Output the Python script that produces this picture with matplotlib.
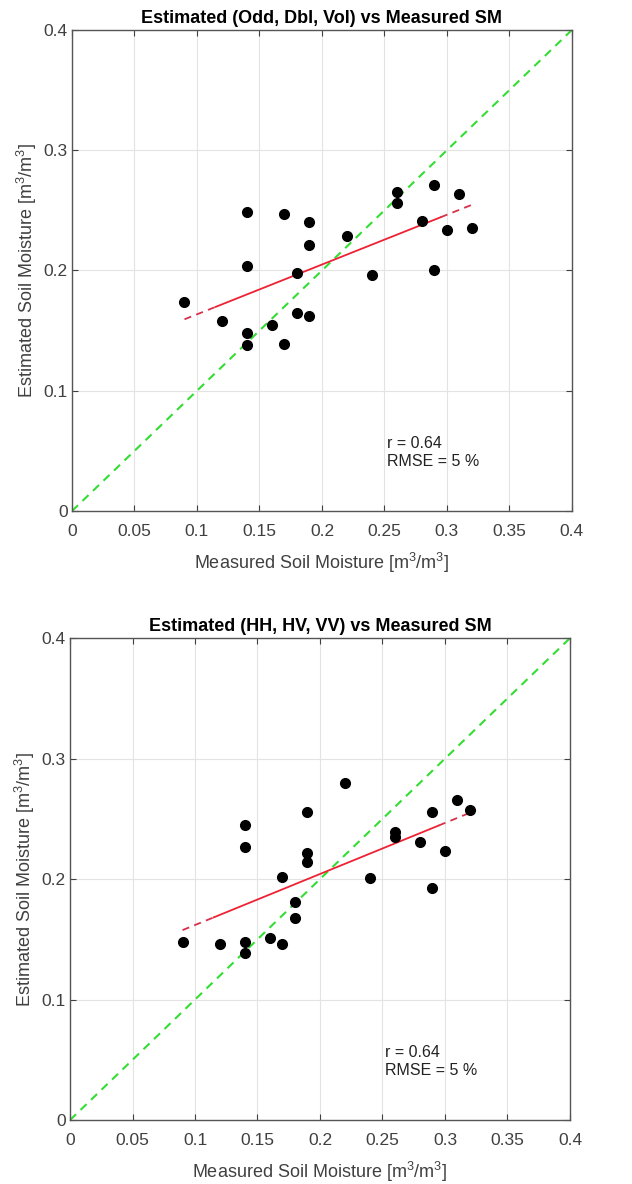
import numpy as np
import matplotlib
matplotlib.use("Agg")
import matplotlib.pyplot as plt

plt.rcParams['font.family'] = ['Liberation Sans', 'DejaVu Sans']
plt.rcParams['mathtext.default'] = 'regular'

measured = [0.09, 0.12, 0.14, 0.14, 0.14, 0.14, 0.16, 0.17, 0.17, 0.18, 0.18,
            0.19, 0.19, 0.19, 0.22, 0.24, 0.26, 0.26, 0.28, 0.29, 0.29, 0.30, 0.31, 0.32]
est_pol = [0.174, 0.158, 0.249, 0.204, 0.148, 0.138, 0.155, 0.247, 0.139, 0.198, 0.165,
           0.240, 0.221, 0.162, 0.229, 0.196, 0.265, 0.256, 0.241, 0.271, 0.200, 0.234, 0.264, 0.235]
est_lin = [0.148, 0.146, 0.245, 0.227, 0.148, 0.139, 0.151, 0.202, 0.146, 0.181, 0.168,
           0.256, 0.222, 0.214, 0.280, 0.201, 0.239, 0.235, 0.231, 0.256, 0.193, 0.223, 0.266, 0.257]
titles = ["Estimated (Odd, Dbl, Vol) vs Measured SM",
          "Estimated (HH, HV, VV) vs Measured SM"]
stats_text = "r = 0.64\nRMSE = 5 %"
xticks = [0, 0.05, 0.1, 0.15, 0.2, 0.25, 0.3, 0.35, 0.4]
xtick_labels = ["0", "0.05", "0.1", "0.15", "0.2", "0.25", "0.3", "0.35", "0.4"]
yticks = [0, 0.1, 0.2, 0.3, 0.4]
ytick_labels = ["0", "0.1", "0.2", "0.3", "0.4"]

fig = plt.figure(figsize=(6.32, 11.84), dpi=100)
positions = [[0.1139, 0.5684, 0.791, 0.4063], [0.1108, 0.054, 0.791, 0.407]]

for pos, est, title in zip(positions, [est_pol, est_lin], titles):
    ax = fig.add_axes(pos)
    x = np.array(measured)
    y = np.array(est)
    ax.plot([0, 0.4], [0, 0.4], linestyle=(0, (4, 3)), color='#33dd33', lw=1.5, zorder=2)
    k, b = np.polyfit(x, y, 1)
    xs = np.array([x.min(), 0.115])
    xm = np.array([0.115, 0.295])
    xe = np.array([0.295, x.max()])
    ax.plot(xs, k * xs + b, linestyle=(0, (4, 3)), color='#d9304a', lw=1.3, zorder=3)
    ax.plot(xm, k * xm + b, '-', color='#ee2233', lw=1.3, zorder=3)
    ax.plot(xe, k * xe + b, linestyle=(0, (4, 3)), color='#d9304a', lw=1.3, zorder=3)
    ax.plot(x, y, 'o', color='black', ms=7, zorder=4)
    ax.set_xlim(0, 0.4)
    ax.set_ylim(0, 0.4)
    ax.set_xticks(xticks)
    ax.set_xticklabels(xtick_labels)
    ax.set_yticks(yticks)
    ax.set_yticklabels(ytick_labels)
    ax.grid(True, color='#e3e3e3', lw=0.8)
    ax.set_axisbelow(True)
    ax.tick_params(direction='in', top=True, right=True, labelsize=12.5, colors='#404040',
                   length=4, width=0.8)
    ax.tick_params(axis='x', pad=9)
    ax.tick_params(axis='y', pad=3)
    for s in ax.spines.values():
        s.set_color('#555555')
        s.set_linewidth(1.0)
    ax.set_title(title, fontsize=13, fontweight='bold', pad=5)
    ax.set_xlabel("Measured Soil Moisture [m$^3$/m$^3$]", fontsize=13, color='#404040', labelpad=9)
    ax.set_ylabel("Estimated Soil Moisture [m$^3$/m$^3$]", fontsize=13, color='#404040', labelpad=3)
    ax.text(0.252, 0.049, stats_text, fontsize=11.5, color='#222222', va='center', ha='left',
            linespacing=1.25)

fig.savefig("out.png", dpi=100)
